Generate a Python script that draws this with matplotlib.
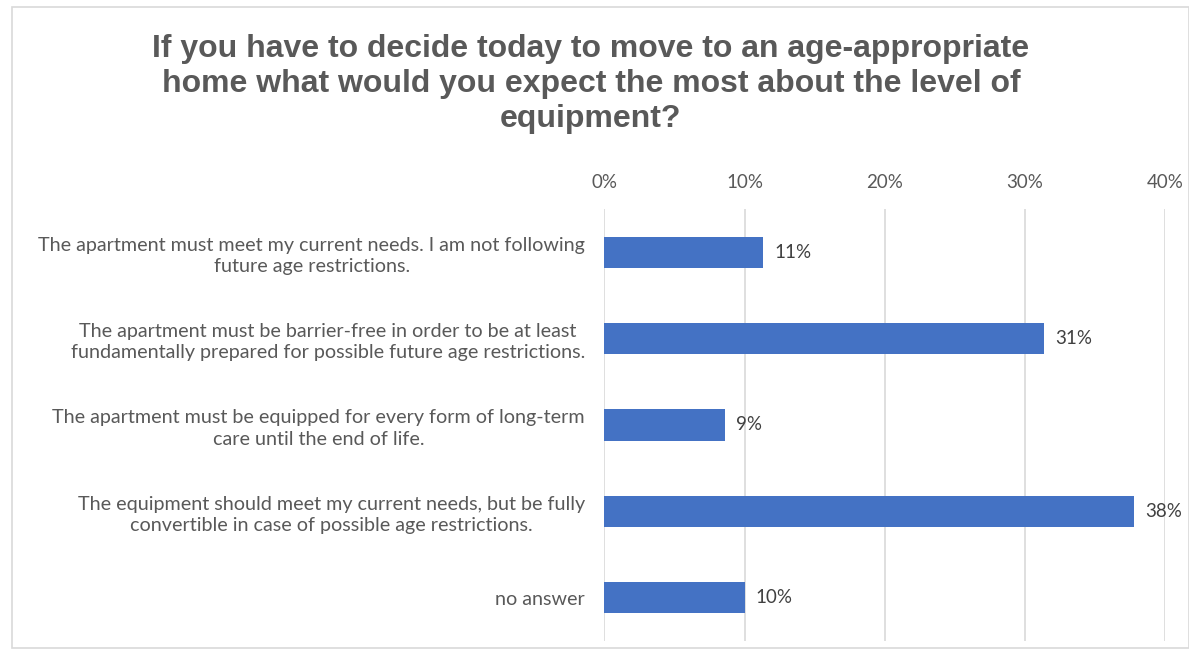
import matplotlib.pyplot as plt
from matplotlib.patches import Rectangle

# answers, top to bottom
categories = [
    "The apartment must meet my current needs. I am not following\nfuture age restrictions.",
    "The apartment must be barrier-free in order to be at least\nfundamentally prepared for possible future age restrictions.",
    "The apartment must be equipped for every form of long-term\ncare until the end of life.",
    "The equipment should meet my current needs, but be fully\nconvertible in case of possible age restrictions.",
    "no answer",
]
shares = [11.3, 31.4, 8.6, 37.8, 10.0]
value_labels = ["11%", "31%", "9%", "38%", "10%"]
ticks = [0, 10, 20, 30, 40]
tick_labels = ["0%", "10%", "20%", "30%", "40%"]

title = ("If you have to decide today to move to an age-appropriate\n"
         "home what would you expect the most about the level of\n"
         "equipment?")

bar_color = "#4472C4"
text_gray = "#595959"

fig = plt.figure(figsize=(11.89, 6.53), dpi=100)
ax = fig.add_axes([0.5084, 0.0184, 0.4714, 0.6616])

# chart border
fig.patches.append(Rectangle((12 / 1189, 1 - 648 / 653), 1 - 12 / 1189, (648 - 7) / 653,
                             transform=fig.transFigure, fill=False,
                             edgecolor="#D9D9D9", linewidth=1.2))

y = list(range(len(categories)))
ax.barh(y, shares, height=0.36, color=bar_color, zorder=3)

for yi, v, lab in zip(y, shares, value_labels):
    ax.annotate(lab, (v, yi), xytext=(8, 0), textcoords="offset points",
                va="center", ha="left", fontsize=13.5, color="#404040",
                family="Lato")

ax.set_xlim(0, 40)
ax.set_ylim(len(categories) - 0.5, -0.5)
ax.set_xticks(ticks)
ax.set_xticklabels(tick_labels)
ax.xaxis.tick_top()
ax.tick_params(axis="x", length=0, pad=13, labelsize=13.5, labelcolor=text_gray)
ax.set_yticks(y)
ax.set_yticklabels(categories, multialignment="center", linespacing=1.3)
ax.tick_params(axis="y", length=0, pad=14, labelsize=14.2, labelcolor=text_gray)
for t in ax.get_xticklabels() + ax.get_yticklabels():
    t.set_family("Lato")

ax.grid(axis="x", color="#D9D9D9", linewidth=1.2, zorder=0)
for s in ax.spines.values():
    s.set_visible(False)

fig.text(0.497, 1 - 84 / 653, title, ha="center", va="center", fontsize=23,
         fontweight="bold", color=text_gray, family="Liberation Sans",
         linespacing=1.22)

fig.savefig("out.png", dpi=100)
